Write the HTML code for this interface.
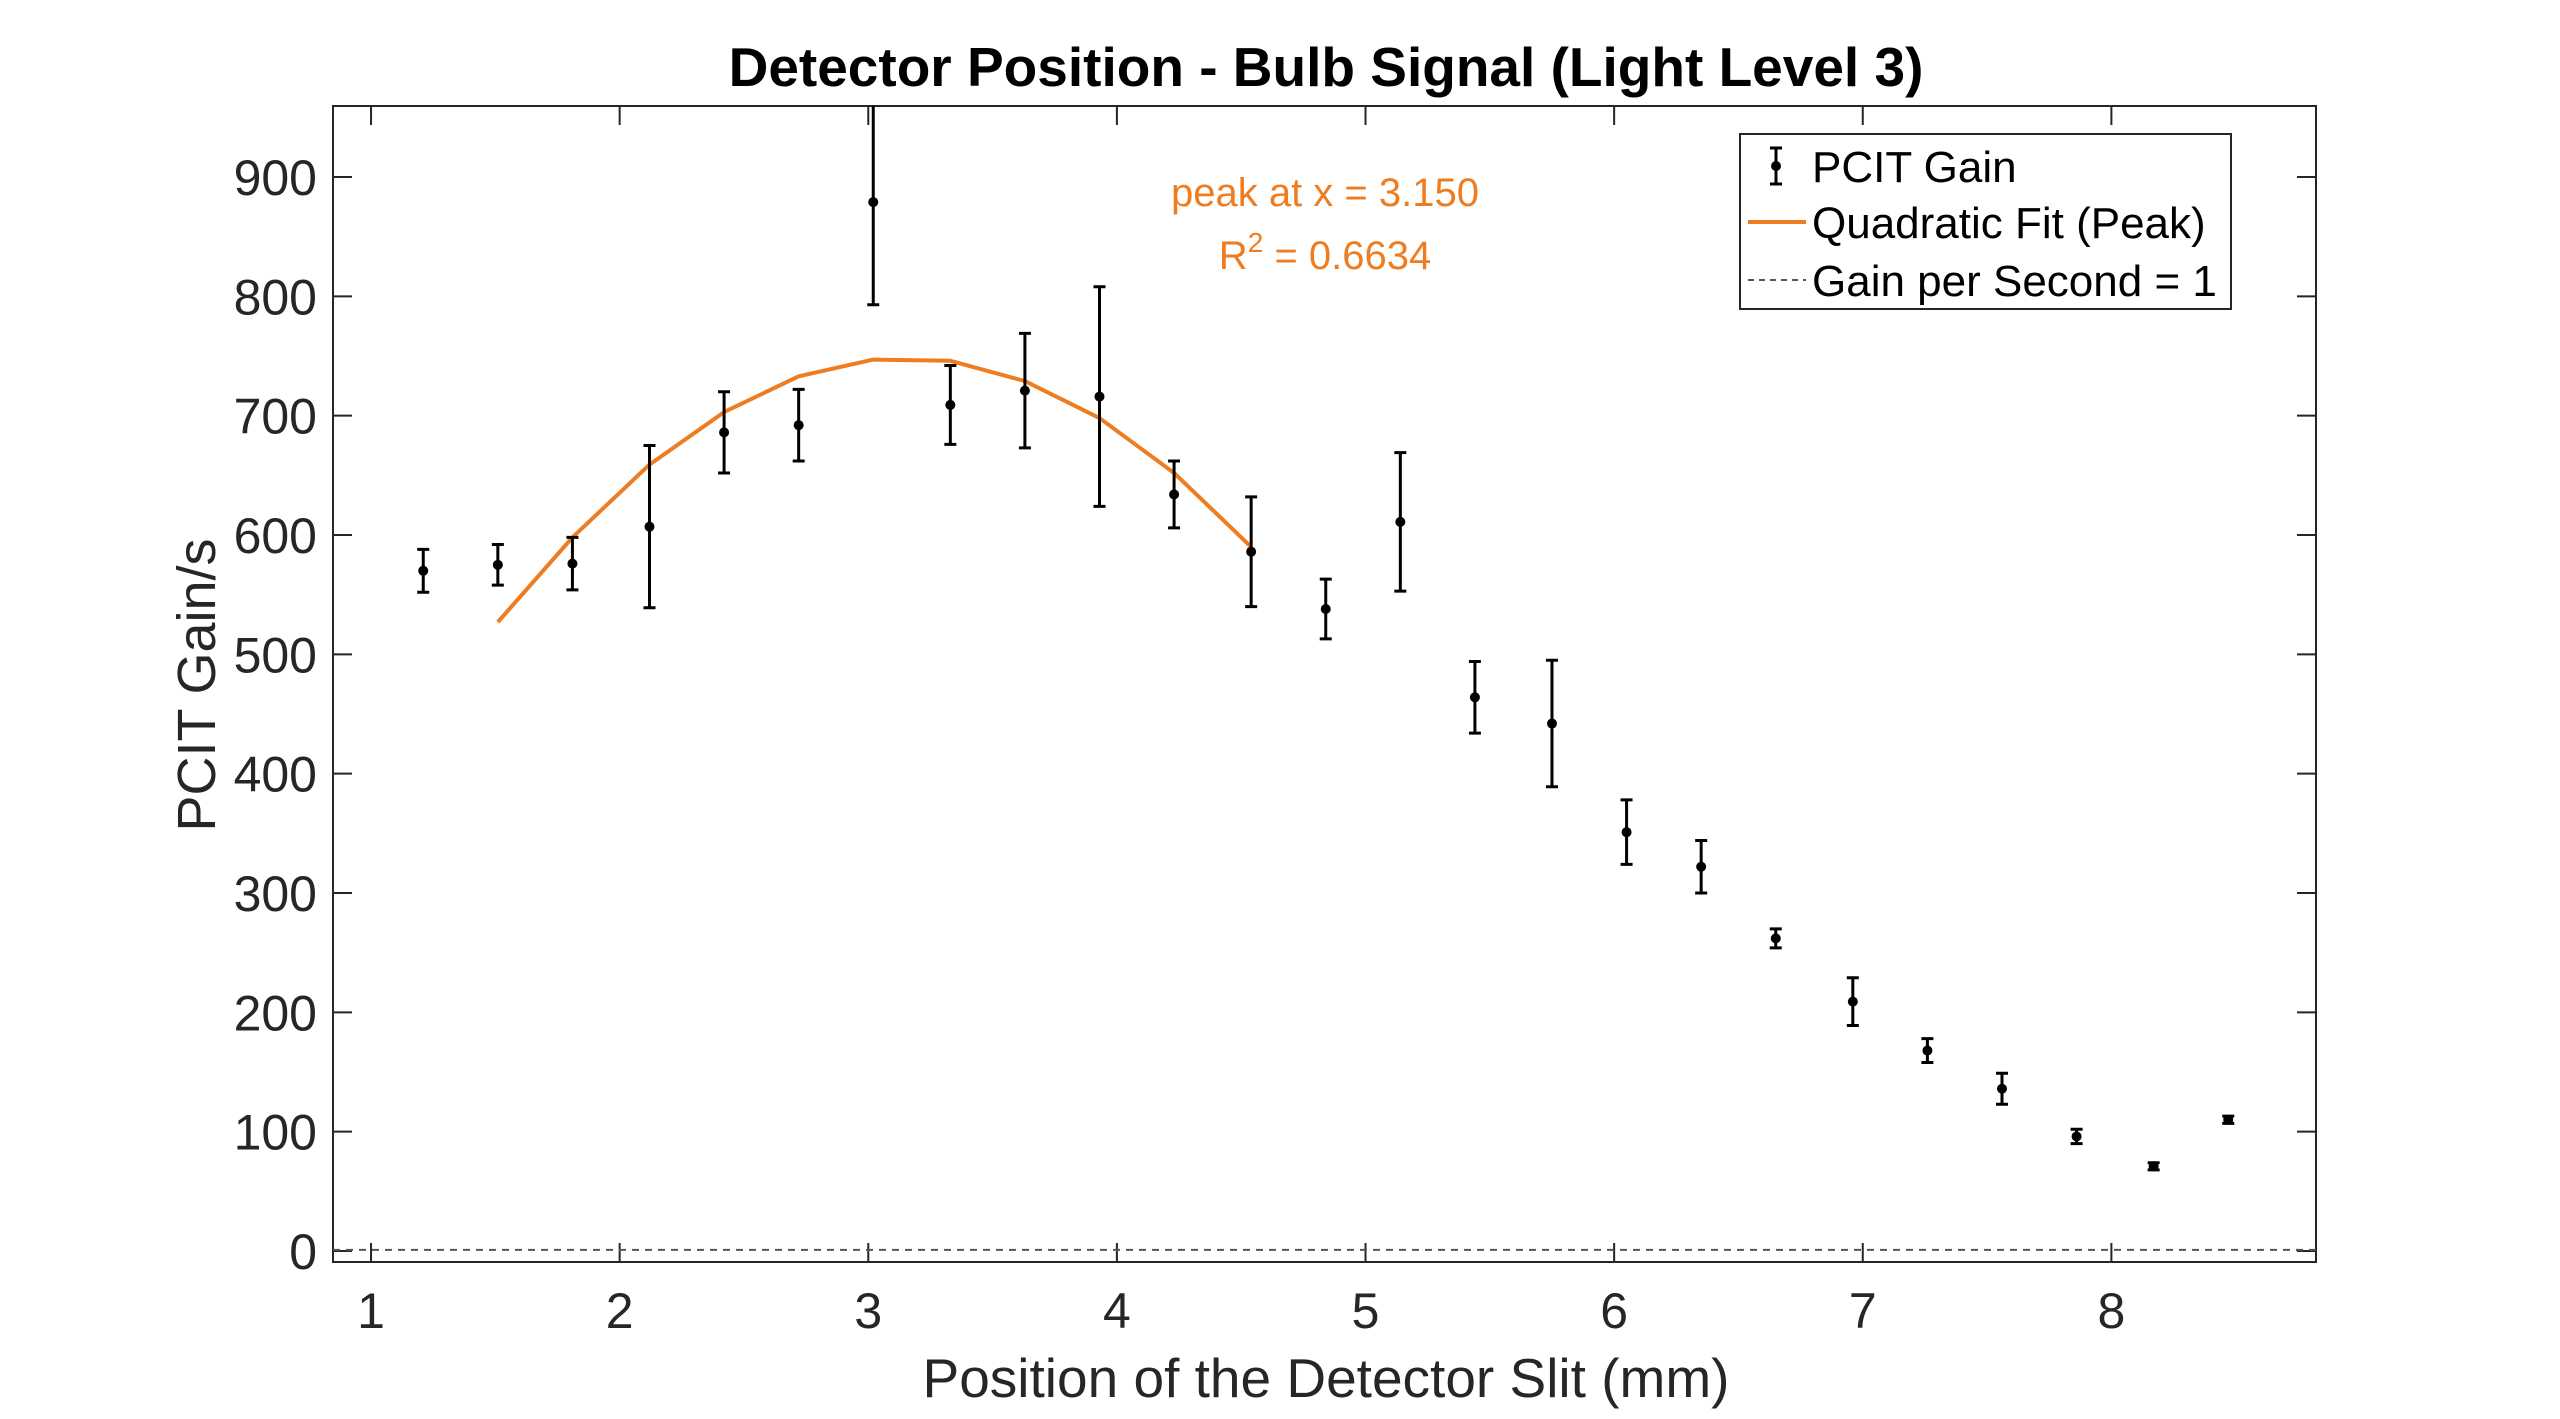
<!DOCTYPE html>
<html><head><meta charset="utf-8"><style>
html,body{margin:0;padding:0;background:#fff;}
svg{display:block;font-family:"Liberation Sans",Arial,sans-serif;}
</style></head><body>
<svg id="chart" width="2560" height="1419" viewBox="0 0 2560 1419">
<text x="1326" y="86" text-anchor="middle" font-size="55" font-weight="bold" fill="#000">Detector Position - Bulb Signal (Light Level 3)</text>
<g id="axes"></g>
<g id="marks"></g>
<text x="1326" y="1397" text-anchor="middle" font-size="55" fill="#262626">Position of the Detector Slit (mm)</text>
<text transform="translate(215,685) rotate(-90)" text-anchor="middle" font-size="54" fill="#262626">PCIT Gain/s</text>
<text x="1325" y="206" text-anchor="middle" font-size="40" fill="#EE7D22">peak at x = 3.150</text>
<text x="1325" y="269" text-anchor="middle" font-size="40" fill="#EE7D22">R<tspan dy="-17" font-size="28">2</tspan><tspan dy="17"> = 0.6634</tspan></text>
<g>
<rect x="1740" y="134" width="491" height="175" fill="#fff" stroke="#262626" stroke-width="2"/>
<g>
<line x1="1776" y1="148" x2="1776" y2="184" stroke="#000" stroke-width="3"/>
<line x1="1770" y1="148" x2="1782" y2="148" stroke="#000" stroke-width="3"/>
<line x1="1770" y1="184" x2="1782" y2="184" stroke="#000" stroke-width="3"/>
<circle cx="1776" cy="166" r="5" fill="#000"/>
<text x="1812" y="182" font-size="44" fill="#000">PCIT Gain</text>
</g>
<g>
<line x1="1748" y1="222" x2="1806" y2="222" stroke="#EE7D22" stroke-width="4"/>
<text x="1812" y="238" font-size="44" fill="#000">Quadratic Fit (Peak)</text>
</g>
<g>
<line x1="1748" y1="280" x2="1806" y2="280" stroke="#555" stroke-width="2" stroke-dasharray="6,5"/>
<text x="1812" y="296" font-size="44" fill="#000">Gain per Second = 1</text>
</g>
</g>
</svg>
<script>
const xPositions = [1.21,1.51,1.81,2.12,2.42,2.72,3.02,3.33,3.63,3.93,4.23,4.54,4.84,5.14,5.44,5.75,6.05,6.35,6.65,6.96,7.26,7.56,7.86,8.17,8.47];
const gainValues = [570,575,576,607,686,692,879,709,721,716,634,586,538,611,464,442,351,322,262,209,168,136,96,71,110];
const gainErrors = [18,17,22,68,34,30,86,33,48,92,28,46,25,58,30,53,27,22,8,20,10,13,6,3,3];
const fitX = [1.51,1.81,2.12,2.42,2.72,3.02,3.33,3.63,3.93,4.23,4.54];
const fitValues = [527,598,659,703,733,747,746,729,698,652,590];
const xTicks = [1,2,3,4,5,6,7,8];
const yTicks = [0,100,200,300,400,500,600,700,800,900];
const refLineValue = 1;

const NS='http://www.w3.org/2000/svg';
const L=333,R=2316,T=106,B=1262;
const xMin=0.847,xMax=8.823,yMin=-9.2,yMax=959.5;
const sx=v=>L+(v-xMin)/(xMax-xMin)*(R-L);
const sy=v=>B-(v-yMin)/(yMax-yMin)*(B-T);
function mk(tag,attrs,parent){const e=document.createElementNS(NS,tag);for(const k in attrs)e.setAttribute(k,attrs[k]);parent.appendChild(e);return e;}
const axes=document.getElementById('axes'),marks=document.getElementById('marks');

const frame=mk('rect',{x:L,y:T,width:R-L,height:B-T,fill:'none',stroke:'#262626','stroke-width':2},axes);



xTicks.forEach(t=>{
  const x=sx(t);
  const tk=mk('path',{d:`M${x},${B}v-19M${x},${T}v19`,stroke:'#262626','stroke-width':2},axes);
  
  
  const lb=mk('text',{x:x,y:1328,'text-anchor':'middle','font-size':50,fill:'#262626'},axes);
  lb.textContent=t;
  
  
});
yTicks.forEach(t=>{
  const y=sy(t);
  const tk=mk('path',{d:`M${L},${y}h19M${R},${y}h-19`,stroke:'#262626','stroke-width':2},axes);
  
  
  const lb=mk('text',{x:317,y:y+18,'text-anchor':'end','font-size':50,fill:'#262626'},axes);
  lb.textContent=t;
  
  
});

const ref=mk('line',{x1:L,x2:R,y1:sy(refLineValue),y2:sy(refLineValue),stroke:'#555','stroke-width':2,'stroke-dasharray':'7,6'},marks);



const fit=mk('polyline',{points:fitX.map((x,i)=>sx(x)+','+sy(fitValues[i])).join(' '),fill:'none',stroke:'#EE7D22','stroke-width':4,'stroke-linejoin':'round'},marks);



const clipId='pc';
const cp=mk('clipPath',{id:clipId},marks);
mk('rect',{x:L,y:T,width:R-L,height:B-T},cp);
xPositions.forEach((xv,i)=>{
  const g=mk('g',{'clip-path':`url(#${clipId})`},marks);
  
  
  const x=sx(xv),y=sy(gainValues[i]),y1=sy(gainValues[i]+gainErrors[i]),y2=sy(gainValues[i]-gainErrors[i]);
  mk('path',{d:`M${x},${y1}V${y2}M${x-6},${y1}h12M${x-6},${y2}h12`,stroke:'#000','stroke-width':3,fill:'none'},g);
  mk('circle',{cx:x,cy:y,r:5,fill:'#000'},g);
});
</script>
</body></html>
